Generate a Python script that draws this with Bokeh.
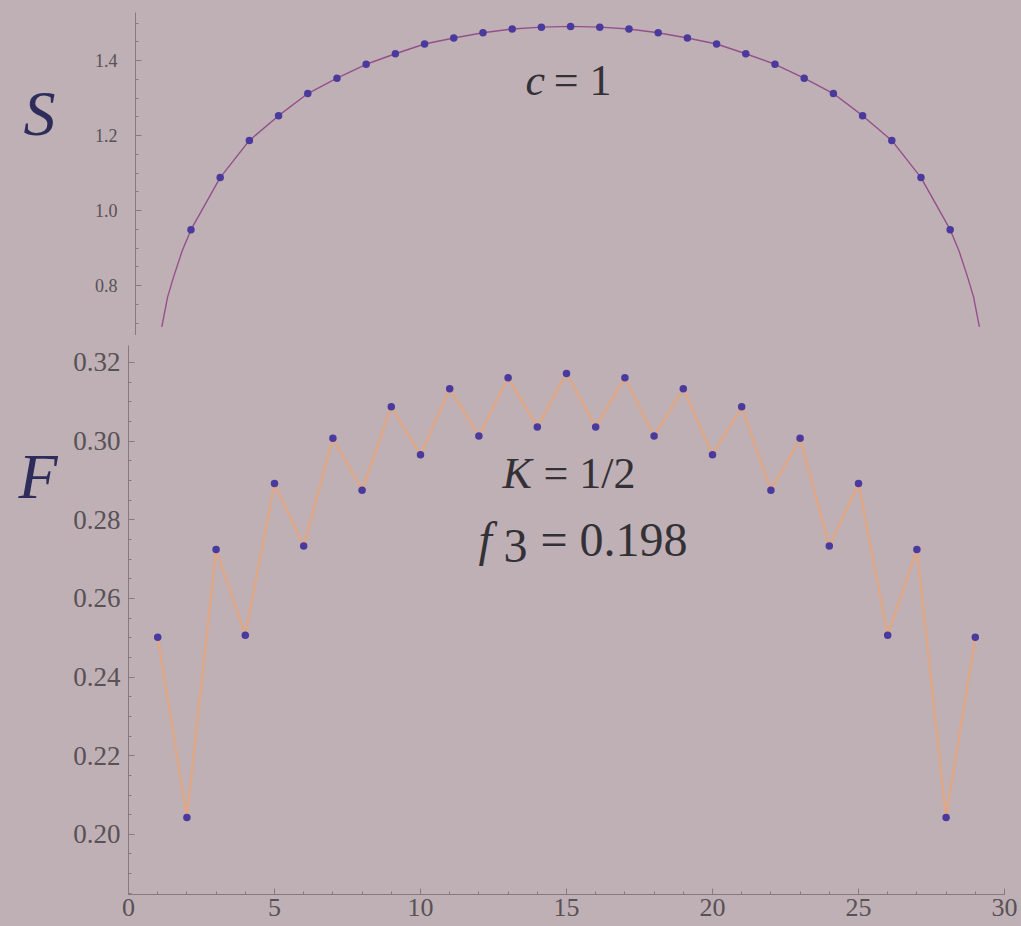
from bokeh.plotting import figure
from bokeh.layouts import column
from bokeh.models import FixedTicker, PrintfTickFormatter, Label, Range1d, LinearAxis
from bokeh.embed import file_html
from bokeh.resources import INLINE

# ---- data -------------------------------------------------------------
# entanglement entropy S at each cut position (c = 1 chain, L = 30)
s_sites = [2, 3, 4, 5, 6, 7, 8, 9, 10, 11, 12, 13, 14, 15,
           16, 17, 18, 19, 20, 21, 22, 23, 24, 25, 26, 27, 28]
s_values = [0.949, 1.088, 1.187, 1.253, 1.312, 1.353, 1.390, 1.418, 1.444,
            1.460, 1.474, 1.484, 1.489, 1.491, 1.489, 1.484, 1.474, 1.460,
            1.444, 1.418, 1.390, 1.353, 1.312, 1.253, 1.187, 1.088, 0.949]
# the continuous curve near the chain ends
s_left_x = [1.0, 1.2, 1.4, 1.7]
s_left_y = [0.690, 0.770, 0.822, 0.893]
s_right_x = [28.3, 28.6, 28.8, 29.0]
s_right_y = [0.893, 0.822, 0.770, 0.690]

# fidelity-like quantity F at each site (K = 1/2)
f_sites = list(range(1, 30))
f_values = [0.2501, 0.2043, 0.2724, 0.2506, 0.2892, 0.2733, 0.3007, 0.2875,
            0.3087, 0.2965, 0.3133, 0.3013, 0.3161, 0.3036, 0.3172, 0.3036,
            0.3161, 0.3013, 0.3133, 0.2965, 0.3087, 0.2875, 0.3007, 0.2733,
            0.2892, 0.2506, 0.2724, 0.2043, 0.2501]

s_ticks = [0.8, 1.0, 1.2, 1.4]
s_minor = [0.70, 0.75, 0.80, 0.85, 0.90, 0.95, 1.00, 1.05, 1.10, 1.15,
           1.20, 1.25, 1.30, 1.35, 1.40, 1.45, 1.50]
f_ticks = [0.20, 0.22, 0.24, 0.26, 0.28, 0.30, 0.32]
f_minor = [0.185, 0.190, 0.195, 0.200, 0.205, 0.210, 0.215, 0.220, 0.225,
           0.230, 0.235, 0.240, 0.245, 0.250, 0.255, 0.260, 0.265, 0.270,
           0.275, 0.280, 0.285, 0.290, 0.295, 0.300, 0.305, 0.310, 0.315,
           0.320]
x_ticks = [0, 5, 10, 15, 20, 25, 30]
x_minor = list(range(0, 31))

# ---- styling ----------------------------------------------------------
BG = "#bfb0b5"
AXIS = "#857a80"
TICK_TXT = "#585155"
DOT = "#4a3a9e"
INK = "#2e2c5a"
TXT = "#333036"
SERIF = "Liberation Serif"


def style_axis(ax, size, standoff):
    ax.axis_line_color = AXIS
    ax.axis_line_width = 1
    ax.major_tick_line_color = AXIS
    ax.minor_tick_line_color = AXIS
    ax.major_tick_in = 6
    ax.major_tick_out = 0
    ax.minor_tick_in = 3
    ax.minor_tick_out = 0
    ax.major_label_text_font = SERIF
    ax.major_label_text_font_size = size
    ax.major_label_text_color = TICK_TXT
    ax.major_label_standoff = standoff


def name_axis(p, text, standoff, line_height):
    # a bare axis used only to carry the panel's symbol beside its ticks;
    # the trailing empty line lifts the symbol above the panel's middle
    ax = LinearAxis(ticker=FixedTicker(ticks=[]),
                    axis_line_color=None, major_tick_line_color=None,
                    minor_tick_line_color=None, axis_label=text + "\n",
                    axis_label_orientation="horizontal",
                    axis_label_standoff=standoff,
                    axis_label_text_font=SERIF,
                    axis_label_text_font_style="italic",
                    axis_label_text_font_size="64px",
                    axis_label_text_line_height=line_height,
                    axis_label_text_color=INK)
    p.add_layout(ax, "left")


def label(p, x, y, text, size, italic=False, lift=0):
    p.add_layout(Label(x=x, y=y, text=text, text_font=SERIF,
                       text_font_style="italic" if italic else "normal",
                       text_font_size=size, text_color=TXT,
                       text_baseline="alphabetic", y_offset=lift))


# ---- top panel: S -----------------------------------------------------
top = figure(width=1021, height=335, output_backend="svg",
             toolbar_location=None, x_range=Range1d(0.1, 30.1),
             y_range=Range1d(0.667, 1.528),
             min_border_left=135, min_border_right=10,
             min_border_top=12, min_border_bottom=0, frame_align=False)
top.xaxis.visible = False
top.grid.visible = False
top.outline_line_color = None
top.background_fill_color = BG
top.border_fill_color = BG
top.yaxis.ticker = FixedTicker(ticks=s_ticks, minor_ticks=s_minor)
top.yaxis.formatter = PrintfTickFormatter(format="%.1f")
style_axis(top.yaxis[0], "18px", 18)
name_axis(top, "S", 36, 1.70)

curve_x = s_left_x + s_sites + s_right_x
curve_y = s_left_y + s_values + s_right_y
top.line(curve_x, curve_y, line_color="#94508c", line_width=1.4)
top.scatter(s_sites, s_values, size=7.5, fill_color=DOT, line_color=None)

label(top, 13.46, 1.3067, "c", "44px", italic=True, lift=15)
label(top, 14.42, 1.3067, "= 1", "44px", lift=15)

# ---- bottom panel: F --------------------------------------------------
bot = figure(width=1021, height=591, output_backend="svg",
             toolbar_location=None, x_range=Range1d(0, 30),
             y_range=Range1d(0.1847, 0.3243),
             min_border_left=128, min_border_right=17,
             min_border_top=10, min_border_bottom=32, frame_align=False)
bot.grid.visible = False
bot.outline_line_color = None
bot.background_fill_color = BG
bot.border_fill_color = BG
bot.yaxis.ticker = FixedTicker(ticks=f_ticks, minor_ticks=f_minor)
bot.yaxis.formatter = PrintfTickFormatter(format="%.2f")
bot.xaxis.ticker = FixedTicker(ticks=x_ticks, minor_ticks=x_minor)
style_axis(bot.yaxis[0], "27px", 8)
style_axis(bot.xaxis[0], "26px", 4)
name_axis(bot, "F", 13, 4.05)

bot.line(f_sites, f_values, line_color="#e4a67e", line_width=2.5,
         line_alpha=0.85)
bot.scatter(f_sites, f_values, size=7.5, fill_color=DOT, line_color=None)

label(bot, 12.81, 0.2877, "K", "44px", italic=True, lift=16)
label(bot, 14.21, 0.2877, "= 1/2", "44px", lift=16)
label(bot, 11.99, 0.2702, "f", "48px", italic=True, lift=19)
label(bot, 12.84, 0.2686, "3", "48px", lift=19)
label(bot, 14.11, 0.2702, "= 0.198", "48px", lift=19)

layout = column(top, bot, spacing=0, styles={"background-color": BG})
with open("out.html", "w") as fh:
    fh.write(file_html(layout, INLINE))
